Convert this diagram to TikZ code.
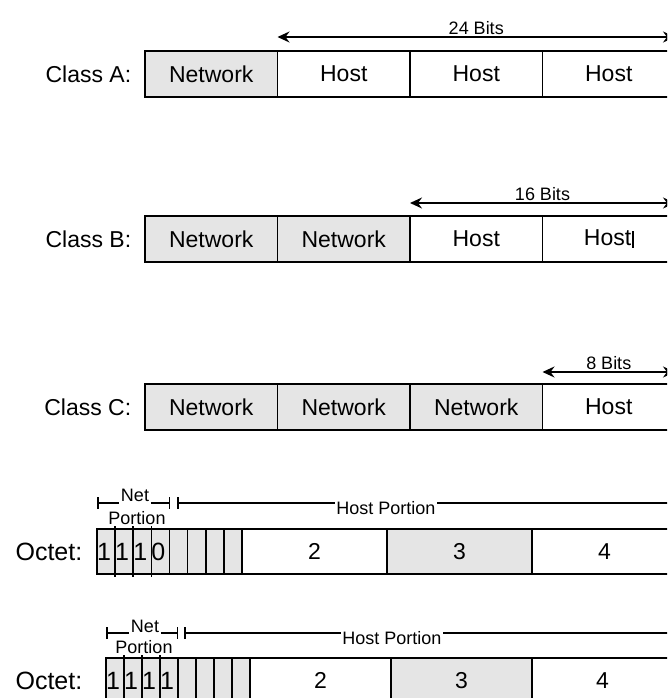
\documentclass[tikz,border=0pt]{standalone}
\usepackage{fontspec}
\setmainfont{Liberation Sans}
\usetikzlibrary{arrows.meta,positioning}
\definecolor{netgray}{RGB}{229,229,229}

\begin{document}
\begin{tikzpicture}[x=1pt,y=-1pt,line width=1.5pt,
  cell/.style={draw,minimum width=132.5pt,minimum height=46pt,inner sep=0pt,outer sep=0pt,font=\fontsize{23}{23}\selectfont},
  netcell/.style={cell,fill=netgray},
  octcell/.style={cell,minimum width=145pt,minimum height=45pt},
  bitcell/.style={draw,fill=netgray,text width=18.1pt,minimum height=45pt,align=left,inner sep=0pt,outer sep=0pt,font=\fontsize{25}{25}\selectfont},
  lbl/.style={font=\fontsize{23}{23}\selectfont,inner sep=0pt},
  small/.style={font=\fontsize{18}{18}\selectfont,inner sep=1pt},
  dim/.style={{Stealth[length=12pt,width=11pt,inset=4pt]}-{Stealth[length=12pt,width=11pt,inset=4pt]},line width=1.6pt},
  tick/.style={line width=1.5pt}]
\useasboundingbox (0,0) rectangle (667,698);
\clip (0,0) rectangle (667,698);

% class A
\node[netcell,anchor=north west] (a1) at (145,51) {Network};
\node[cell,right=0pt of a1] (a2) {Host};
\node[cell,right=0pt of a2] (a3) {Host};
\node[cell,right=0pt of a3] (a4) {Host};
\node[lbl,left=13pt of a1] (ca) {Class A:};
\draw[dim] ([yshift=14pt]a2.north west) -- ([yshift=14pt]a4.north east) node[small,midway,above=1pt] (la) {24 Bits};

% class B
\node[netcell,anchor=north west] (b1) at (145,216) {Network};
\node[netcell,right=0pt of b1] (b2) {Network};
\node[cell,right=0pt of b2] (b3) {Host};
\node[cell,right=0pt of b3] (b4) {Host\kern1pt\rule[-2pt]{1.3pt}{17pt}};
\node[lbl,left=13pt of b1] (cb) {Class B:};
\draw[dim] ([yshift=13pt]b3.north west) -- ([yshift=13pt]b4.north east) node[small,midway,above=1pt] (lb) {16 Bits};

% class C
\node[netcell,anchor=north west] (c1) at (145,384) {Network};
\node[netcell,right=0pt of c1] (c2) {Network};
\node[netcell,right=0pt of c2] (c3) {Network};
\node[cell,right=0pt of c3] (c4) {Host};
\node[lbl,left=13pt of c1] (cc) {Class C:};
\draw[dim] ([yshift=12pt]c4.north west) -- ([yshift=12pt]c4.north east) node[small,midway,above=1pt] (lc) {8 Bits};

% octet 1110
\foreach \i/\d in {1/1,2/1,3/1,4/0,5/{},6/{},7/{},8/{}}
  \node[bitcell,anchor=north west] (p\i) at ({97+(\i-1)*18.125},529) {\d};
\node[octcell,right=0pt of p8] (p9) {2};
\node[octcell,fill=netgray,right=0pt of p9] (p10) {3};
\node[octcell,right=0pt of p10] (p11) {4};
\draw[line width=2.2pt] (p8.north east) -- (p8.south east);
\foreach \i in {1,2,3}
  \draw ([yshift=3pt]p\i.north east) -- ([yshift=-3pt]p\i.south east);
\node[lbl,font=\fontsize{25}{25}\selectfont,left=14pt of p1] (o4) {Octet:};
\coordinate (n4a) at (97,503);
\coordinate (n4b) at (170,503);
\coordinate (h4a) at (177,503);
\coordinate (h4b) at (690,503);
\node[small] (net4) at (135,495) {Net};
\node[small] (por4) at (137,518) {Portion};
\node[small] (hp4) at (386,508) {Host Portion};
\draw[{Bar[width=12pt]}-] (n4a) -- (net4.west |- n4a);
\draw[-{Bar[width=12pt]}] (net4.east |- n4a) -- (n4b);
\draw[{Bar[width=12pt]}-] (h4a) -- (hp4.west |- h4a);
\draw (hp4.east |- h4a) -- (h4b);

% octet 1111
\foreach \i/\d in {1/1,2/1,3/1,4/1,5/{},6/{},7/{},8/{}}
  \node[bitcell,text width=18pt,anchor=north west] (q\i) at ({106+(\i-1)*18},658) {\d};
\node[octcell,minimum width=141pt,right=0pt of q8] (q9) {2};
\node[octcell,minimum width=141pt,fill=netgray,right=0pt of q9] (q10) {3};
\node[octcell,minimum width=141pt,right=0pt of q10] (q11) {4};
\draw[line width=2.2pt] (q9.north east) -- (q9.south east);
\foreach \i in {1,2,3}
  \draw ([yshift=3pt]q\i.north east) -- ([yshift=-3pt]q\i.south east);
\node[lbl,font=\fontsize{25}{25}\selectfont,left=23pt of q1] (o5) {Octet:};
\coordinate (n5a) at (106,633);
\coordinate (n5b) at (178,633);
\coordinate (h5a) at (184,633);
\coordinate (h5b) at (690,633);
\node[small] (net5) at (145,626) {Net};
\node[small] (por5) at (144,647) {Portion};
\node[small] (hp5) at (392,638) {Host Portion};
\draw[{Bar[width=12pt]}-] (n5a) -- (net5.west |- n5a);
\draw[-{Bar[width=12pt]}] (net5.east |- n5a) -- (n5b);
\draw[{Bar[width=12pt]}-] (h5a) -- (hp5.west |- h5a);
\draw (hp5.east |- h5a) -- (h5b);
\end{tikzpicture}
\end{document}
